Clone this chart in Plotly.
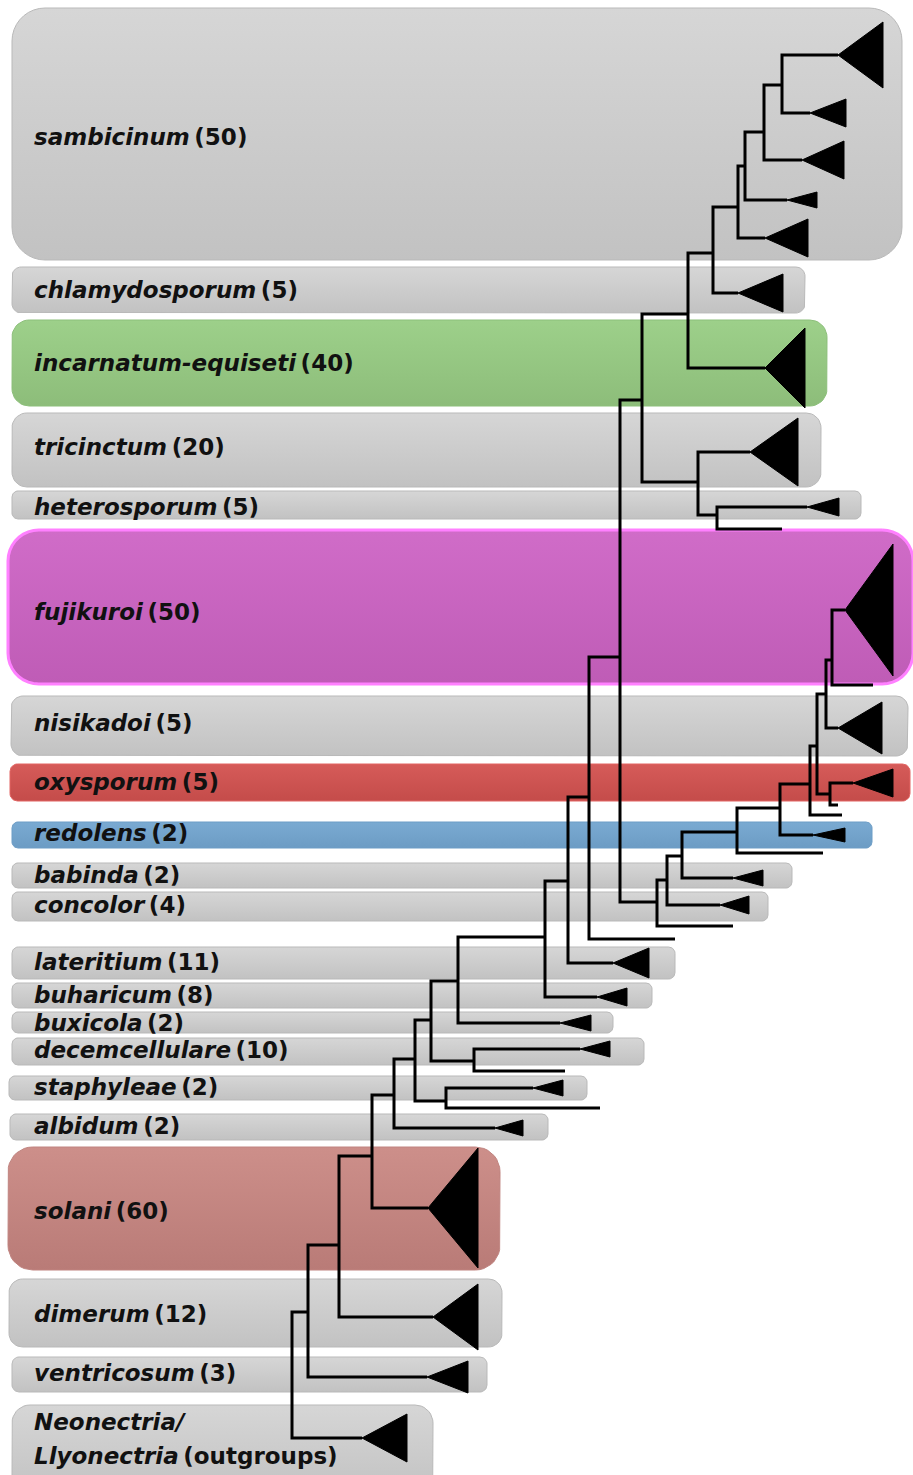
import numpy as np
import plotly.graph_objects as go

# ---- clade boxes (top to bottom), in page pixel units ----
CLADES = ["sambicinum", "chlamydosporum", "incarnatum-equiseti", "tricinctum",
          "heterosporum", "fujikuroi", "nisikadoi", "oxysporum", "redolens",
          "babinda", "concolor", "lateritium", "buharicum", "buxicola",
          "decemcellulare", "staphyleae", "albidum", "solani", "dimerum",
          "ventricosum", "Neonectria/"]
COUNTS = ["50", "5", "40", "20", "5", "50", "5", "5", "2", "2", "4", "11", "8",
          "2", "10", "2", "2", "60", "12", "3", ""]
GROUPS = ["grey", "grey", "green", "grey", "grey", "magenta", "grey", "red",
          "blue", "grey", "grey", "grey", "grey", "grey", "grey", "grey", "grey",
          "salmon", "grey", "grey", "grey"]
BOX_TOP = [8, 267, 320, 413, 491, 530, 696, 764, 822, 863, 892, 947, 983,
           1012, 1038, 1076, 1114, 1147, 1279, 1357, 1405]
BOX_BOTTOM = [260, 313, 406, 487, 519, 684, 756, 801, 848, 888, 921, 979,
              1008, 1033, 1065, 1100, 1140, 1270, 1347, 1392, 1495]
BOX_RIGHT = [902, 805, 827, 821, 861, 913, 908, 910, 872, 792, 768, 675, 652,
             613, 644, 587, 548, 500, 502, 487, 433]
BOX_LEFT = [12, 12, 12, 12, 12, 8, 11, 10, 12, 12, 12, 12, 12, 12, 12, 9, 10,
            8, 9, 12, 12]
LABEL_Y = [137, 290, 363, 447, 507, 612, 723, 782, 833, 875, 905, 962, 995,
           1023, 1050, 1087, 1126, 1211, 1314, 1373, 1422]

# ---- tree: internal nodes (id, parent, x position, attachment y) ----
NODE_ID = ["root", "AF", "AE", "AD", "AC", "AA", "Y", "X", "W", "V", "K", "H",
           "G", "F", "E", "D", "C", "B", "A", "I", "J", "L", "M", "N", "O",
           "P", "Q", "R", "S", "T", "U", "Z", "AB"]
NODE_PARENT = [None, "root", "AF", "AE", "AD", "AC", "AA", "Y", "X", "W", "V",
               "K", "H", "G", "F", "E", "D", "C", "B", "G", "I", "H", "L", "M",
               "N", "O", "P", "Q", "R", "R", "T", "Y", "AA"]
NODE_X = [292, 308, 339, 372, 394, 415, 431, 458, 545, 568, 589, 620, 642, 688,
          713, 738, 745, 764, 782, 698, 717, 657, 667, 682, 737, 780, 810, 817,
          830, 826, 832, 474, 446]
NODE_Y = [1375, 1312, 1245, 1156, 1095, 1059, 1020, 981, 937, 881, 797, 657,
          400, 314, 253, 207, 166, 132, 85, 482, 515, 902, 880, 856, 832, 808,
          784, 746, 794, 694, 660, 1061, 1101]

# ---- tips: collapsed clades (triangles) and single branches ----
TIP_PARENT = ["A", "A", "B", "C", "D", "E", "F", "I", "J", "J", "U", "U", "T",
              "S", "S", "Q", "P", "O", "N", "M", "L", "V", "K", "W", "X", "Z",
              "Z", "AB", "AB", "AC", "AD", "AE", "AF", "root"]
TIP_Y = [55, 113, 160, 200, 238, 293, 368, 452, 507, 529, 610, 685, 728, 783,
         805, 815, 835, 853, 878, 905, 926, 963, 939, 997, 1023, 1049, 1071,
         1088, 1108, 1128, 1208, 1317, 1377, 1438]
TIP_X = [838, 810, 802, 787, 765, 738, 765, 750, 807, 782, 845, 873, 838, 853,
         838, 842, 813, 823, 733, 720, 733, 613, 675, 597, 560, 580, 565, 533,
         600, 495, 428, 433, 427, 362]
TRI_END = [883, 846, 844, 817, 808, 783, 805, 798, 839, None, 893, None, 882,
           893, None, None, 845, None, 763, 749, None, 649, None, 627, 591, 610,
           None, 563, None, 523, 478, 478, 468, 407]
TRI_HALF = [33, 14, 19, 8, 19, 19, 40, 34, 9, 0, 66, 0, 26, 14, 0, 0, 7, 0, 8,
            9, 0, 15, 0, 9, 8, 8, 0, 8, 0, 8, 60, 33, 16, 24]

STYLE = {
    "grey": dict(top="#d6d6d6", bottom="#c2c2c2", edge="#b9b9b9", width=1),
    "green": dict(top="#9dd08a", bottom="#8dbd7a", edge="#8cbf7a", width=1),
    "magenta": dict(top="#d06cc8", bottom="#bf5cb6", edge="#ff80ff", width=3),
    "red": dict(top="#d65b59", bottom="#c44c4a", edge="#e26462", width=1),
    "blue": dict(top="#7aaad2", bottom="#6c9cc4", edge="#6d9dc6", width=1),
    "salmon": dict(top="#cd8f8a", bottom="#b97b77", edge="#c08480", width=1),
}
FONT = dict(family="DejaVu Sans", size=23, color="#111111")
GAP = "\u2009"  # narrow gap between name and count, as in the figure


def rounded_box(x0, y0, x1, y1, r, n=10):
    xs, ys = [], []
    corners = [(x1 - r, y0 + r, -90), (x1 - r, y1 - r, 0),
               (x0 + r, y1 - r, 90), (x0 + r, y0 + r, 180)]
    for cx, cy, a0 in corners:
        for t in np.linspace(a0, a0 + 90, n):
            xs.append(cx + r * np.cos(np.radians(t)))
            ys.append(cy + r * np.sin(np.radians(t)))
    xs.append(xs[0])
    ys.append(ys[0])
    return xs, ys


fig = go.Figure()

for i, name in enumerate(CLADES):
    h = BOX_BOTTOM[i] - BOX_TOP[i]
    r = min(33, max(6, h * 0.2))
    st = STYLE[GROUPS[i]]
    bx, by = rounded_box(BOX_LEFT[i], BOX_TOP[i], BOX_RIGHT[i], BOX_BOTTOM[i], r)
    # y axis is reversed, so gradient 0 end sits at the bottom of the box
    fig.add_trace(go.Scatter(
        x=bx, y=by, mode="lines", fill="toself",
        fillgradient=dict(type="vertical",
                          colorscale=[[0, st["bottom"]], [1, st["top"]]]),
        line=dict(color=st["edge"], width=st["width"]),
        hoverinfo="skip", showlegend=False,
    ))

# branches: each internal node draws a bracket to its two children
pos = {n: (x, y) for n, x, y in zip(NODE_ID, NODE_X, NODE_Y)}
children = {n: [] for n in NODE_ID}
for n, p in zip(NODE_ID, NODE_PARENT):
    if p is not None:
        children[p].append(pos[n])
for p, tx, ty in zip(TIP_PARENT, TIP_X, TIP_Y):
    children[p].append((tx, ty))

lx, ly = [], []
for n in NODE_ID:
    kids = sorted(children[n], key=lambda c: c[1])
    top, bot = kids[0], kids[-1]
    nx = pos[n][0]
    lx += [top[0], nx, nx, bot[0], None]
    ly += [top[1], top[1], bot[1], bot[1], None]

fig.add_trace(go.Scatter(
    x=lx, y=ly, mode="lines", line=dict(color="black", width=3),
    hoverinfo="skip", showlegend=False,
))

tx_, ty_ = [], []
for x, y, xe, hh in zip(TIP_X, TIP_Y, TRI_END, TRI_HALF):
    if xe is None:
        continue
    tx_ += [x, xe, xe, x, None]
    ty_ += [y, y - hh, y + hh, y, None]

fig.add_trace(go.Scatter(
    x=tx_, y=ty_, mode="lines", fill="toself", fillcolor="black",
    line=dict(color="black", width=1), hoverinfo="skip", showlegend=False,
))

# labels
for i, name in enumerate(CLADES):
    if COUNTS[i]:
        txt = f"<b><i>{name}</i>{GAP}({COUNTS[i]})</b>"
    else:
        txt = f"<b><i>{name}</i></b>"
    fig.add_annotation(x=32, y=LABEL_Y[i], text=txt, showarrow=False,
                       xanchor="left", yanchor="middle", font=FONT)
fig.add_annotation(x=32, y=1456, text=f"<b><i>Llyonectria</i>{GAP}(outgroups)</b>",
                   showarrow=False, xanchor="left", yanchor="middle", font=FONT)

fig.update_layout(
    width=913, height=1475,
    margin=dict(l=0, r=0, t=0, b=0),
    paper_bgcolor="white", plot_bgcolor="white",
    xaxis=dict(range=[0, 913], visible=False, fixedrange=True),
    yaxis=dict(range=[1475, 0], visible=False, fixedrange=True),
)

fig.write_html("out.html", config={"displayModeBar": False},
               post_script="document.body.style.margin='0px';"
                           "document.body.style.overflow='hidden';")
